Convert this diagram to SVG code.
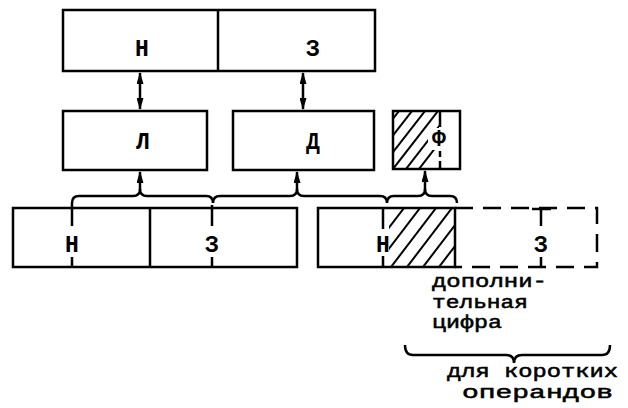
<svg xmlns="http://www.w3.org/2000/svg" width="628" height="408" viewBox="0 0 628 408">
<style>
.box{fill:#fff;stroke:#000;stroke-width:2.5}
.ln{fill:none;stroke:#000;stroke-width:2.5}
.th{fill:none;stroke:#000;stroke-width:2}
.dash{fill:none;stroke:#000;stroke-width:2.5;stroke-dasharray:18 10}
.lbl{font-family:"Liberation Mono","DejaVu Sans Mono",monospace;font-size:23px;font-weight:bold;text-anchor:middle;fill:#000}
.txt{font-family:"Liberation Mono","DejaVu Sans Mono",monospace;font-size:18px;fill:#000;stroke:#000;stroke-width:0.5}
</style>
<defs>
<marker id="ah" viewBox="0 0 12 7" refX="11" refY="3.5" markerWidth="12" markerHeight="7" markerUnits="userSpaceOnUse" orient="auto-start-reverse">
<path d="M0,0 L12,3.5 L0,7 z" fill="#000"/>
</marker>
<clipPath id="c1"><rect x="389" y="209" width="65" height="57"/></clipPath>
<clipPath id="c2"><rect x="394" y="112" width="45" height="56"/></clipPath>
</defs>

<g id="top-register">
<rect class="box" x="63" y="10" width="312" height="61"/>
<line class="ln" x1="218" y1="10" x2="218" y2="71"/>
<text class="lbl" x="142" y="56">Н</text>
<text class="lbl" x="313" y="56">З</text>
</g>

<g id="L">
<rect class="box" x="63" y="111" width="144" height="59"/>
<text class="lbl" x="143" y="149">Л</text>
</g>

<g id="D">
<rect class="box" x="233" y="111" width="141" height="59"/>
<text class="lbl" x="313" y="149">Д</text>
</g>

<g id="F">
<rect class="box" x="393" y="111" width="67" height="58"/>
<g clip-path="url(#c2)">
<line class="th" x1="380" y1="169" x2="425" y2="111"/>
<line class="th" x1="393" y1="169" x2="438" y2="111"/>
<line class="th" x1="406" y1="169" x2="451" y2="111"/>
<line class="th" x1="419" y1="169" x2="464" y2="111"/>
<line class="th" x1="367" y1="169" x2="412" y2="111"/>
<line class="th" x1="354" y1="169" x2="399" y2="111"/>
</g>
<line class="ln" x1="440" y1="111" x2="440" y2="127"/>
<line class="ln" x1="440" y1="151" x2="440" y2="157"/>
<line class="ln" x1="440" y1="161" x2="440" y2="169"/>
<rect x="428" y="128" width="22" height="22" fill="#fff"/>
<text class="lbl" x="439" y="146">Ф</text>
</g>

<g id="operand-long">
<rect class="box" x="13" y="208" width="284" height="59"/>
<line class="ln" x1="150" y1="208" x2="150" y2="267"/>
<line class="ln" x1="72" y1="203" x2="72" y2="226"/>
<line class="ln" x1="72" y1="257" x2="72" y2="267"/>
<line class="ln" x1="212" y1="205" x2="212" y2="226"/>
<line class="ln" x1="212" y1="257" x2="212" y2="267"/>
<text class="lbl" x="72" y="252">Н</text>
<text class="lbl" x="212" y="252">З</text>
</g>

<g id="operand-short">
<rect class="box" x="318" y="208" width="137" height="59"/>
<g clip-path="url(#c1)">
<line class="th" x1="343" y1="267" x2="388" y2="208"/>
<line class="th" x1="359" y1="267" x2="404" y2="208"/>
<line class="th" x1="375" y1="267" x2="420" y2="208"/>
<line class="th" x1="391" y1="267" x2="436" y2="208"/>
<line class="th" x1="407" y1="267" x2="452" y2="208"/>
<line class="th" x1="423" y1="267" x2="468" y2="208"/>
<line class="th" x1="439" y1="267" x2="484" y2="208"/>
</g>
<line class="ln" x1="383" y1="208" x2="383" y2="229"/>
<line class="ln" x1="383" y1="256" x2="383" y2="267"/>
<text class="lbl" x="383" y="252">Н</text>
<path class="dash" d="M455,208 H597 V267 H455"/>
<line class="ln" x1="532" y1="209" x2="551" y2="209"/>
<line class="ln" x1="541" y1="209" x2="541" y2="226"/>
<line class="ln" x1="541" y1="257" x2="541" y2="267"/>
<text class="lbl" x="541" y="252">З</text>
</g>

<g id="note">
<text class="txt" x="432" y="287" textLength="115" lengthAdjust="spacingAndGlyphs">дополни-</text>
<text class="txt" x="432" y="307.5" textLength="96" lengthAdjust="spacingAndGlyphs">тельная</text>
<text class="txt" x="432" y="328" textLength="70" lengthAdjust="spacingAndGlyphs">цифра</text>
<text class="txt" x="447" y="377" textLength="171" lengthAdjust="spacingAndGlyphs">для коротких</text>
<text class="txt" x="462" y="397.5" textLength="151" lengthAdjust="spacingAndGlyphs">операндов</text>
</g>

<g id="connectors">
<line class="ln" x1="140" y1="73" x2="140" y2="109" marker-start="url(#ah)" marker-end="url(#ah)"/>
<line class="ln" x1="303" y1="73" x2="303" y2="109" marker-start="url(#ah)" marker-end="url(#ah)"/>
<path class="ln" d="M72,203 Q72,196 79,196 L133,196 Q140,196 140,189 Q140,196 147,196 L206,196 Q213,196 213,203 Q213,196 220,196 L290,196 Q297,196 297,189 Q297,196 304,196 L380,196 Q387,196 387,203 Q387,196 394,196 L418,196 Q425,196 425,189 Q425,196 432,196 L450,196 Q457,196 457,203"/>
<line class="ln" x1="140" y1="190" x2="140" y2="172" marker-end="url(#ah)"/>
<line class="ln" x1="297" y1="190" x2="297" y2="172" marker-end="url(#ah)"/>
<line class="ln" x1="425" y1="190" x2="425" y2="171" marker-end="url(#ah)"/>
<path class="ln" d="M405,345 Q405,355 413,355 L506,355 Q514,355 514,363 Q514,355 522,355 L602,355 Q610,355 610,345"/>
</g>
</svg>
